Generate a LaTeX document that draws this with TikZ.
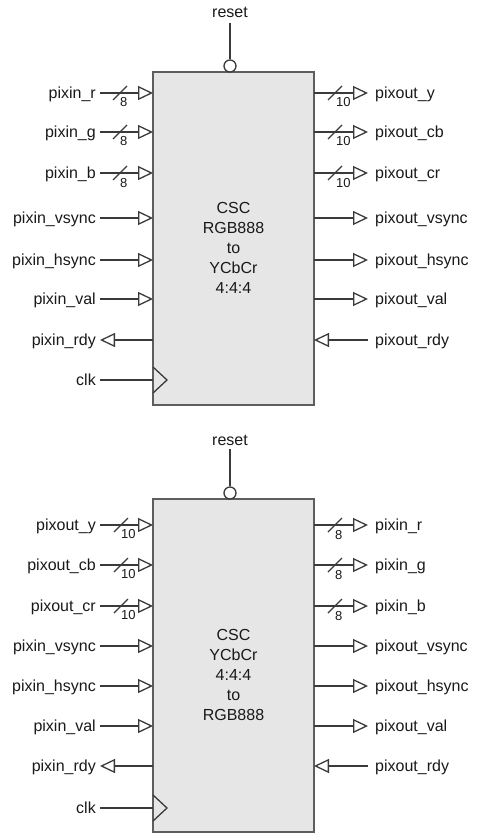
\documentclass[tikz,border=0pt]{standalone}
\usepackage{fontspec}
\setmainfont{Liberation Sans}
\usetikzlibrary{arrows.meta}
\definecolor{linec}{HTML}{3A3A3A}
\definecolor{boxfill}{HTML}{E6E6E6}
\definecolor{boxline}{HTML}{5E5E5E}
\begin{document}
\begin{tikzpicture}[x=1pt,y=-1pt,
  blk/.style={draw=boxline, fill=boxfill, line width=1.7pt, inner sep=0pt, outer sep=0pt},
  sig/.style={draw=linec, line width=1.3pt},
  tri/.style={-{Triangle[open,length=15pt,width=14pt]}},
  lbl/.style={font=\fontsize{16}{20}\selectfont, inner sep=0pt, text=black!90},
  buslbl/.style={font=\fontsize{13}{15}\selectfont, inner sep=0pt, anchor=base west, text=black!90},
  bubble/.style={circle, draw=linec, line width=1.3pt, fill=white, minimum size=12pt, inner sep=0pt}]
\useasboundingbox (0,0) rectangle (480,840);

% ================= block 1 =================
\node[blk, anchor=north west, minimum width=161pt, minimum height=333pt] (B1) at (153,72) {};
\node[lbl, align=center] (B1t) at (233.5,248) {CSC\\RGB888\\to\\YCbCr\\4:4:4};
% reset
\node[lbl, anchor=base] (B1r) at (230,18) {reset};
\node[bubble] (B1c) at (230,66) {};
\draw[sig] ([yshift=-5pt]B1r.base) -- (B1c.north);
% left bus inputs
\foreach \i/\t/\y/\w in {r/pixin\_r/93/8, g/pixin\_g/132/8, b/pixin\_b/173/8}{
  \coordinate (P1-\i) at (153,\y);
  \node[lbl, anchor=base east] (L1-\i) at (96,\y+5.5) {\t};
  \draw[sig,tri] ([xshift=4pt]L1-\i.east |- P1-\i) -- (P1-\i);
  \draw[sig] (113,\y+7) -- (127,\y-7);
  \node[buslbl] (W1-\i) at (120,\y+14) {\w};
}
% left single inputs
\foreach \i/\t/\y in {v/pixin\_vsync/218, h/pixin\_hsync/260, a/pixin\_val/299}{
  \coordinate (P1-\i) at (153,\y);
  \node[lbl, anchor=base east] (L1-\i) at (96,\y+5.5) {\t};
  \draw[sig,tri] ([xshift=4pt]L1-\i.east |- P1-\i) -- (P1-\i);
}
% pixin_rdy (output to the left)
\coordinate (P1-y) at (153,340);
\node[lbl, anchor=base east] (L1-y) at (96,345.5) {pixin\_rdy};
\draw[sig,tri] (P1-y) -- ([xshift=4pt]L1-y.east |- P1-y);
% clk
\coordinate (P1-k) at (153,380);
\node[lbl, anchor=base east] (L1-k) at (96,385.5) {clk};
\draw[sig] ([xshift=4pt]L1-k.east |- P1-k) -- (P1-k);
\draw[sig] (153,367) -- (167,380) -- (153,393);
% right bus outputs
\foreach \i/\t/\y/\w in {r/pixout\_y/93/10, g/pixout\_cb/132/10, b/pixout\_cr/173/10}{
  \coordinate (Q1-\i) at (314,\y);
  \node[lbl, anchor=base west] (R1-\i) at (375,\y+5.5) {\t};
  \draw[sig,tri] (Q1-\i) -- ([xshift=-7pt]R1-\i.west |- Q1-\i);
  \draw[sig] (328,\y+7) -- (342,\y-7);
  \node[buslbl] (X1-\i) at (336,\y+14) {\w};
}
% right single outputs
\foreach \i/\t/\y in {v/pixout\_vsync/218, h/pixout\_hsync/260, a/pixout\_val/299}{
  \coordinate (Q1-\i) at (314,\y);
  \node[lbl, anchor=base west] (R1-\i) at (375,\y+5.5) {\t};
  \draw[sig,tri] (Q1-\i) -- ([xshift=-7pt]R1-\i.west |- Q1-\i);
}
% pixout_rdy (input from the right)
\coordinate (Q1-y) at (314,340);
\node[lbl, anchor=base west] (R1-y) at (375,345.5) {pixout\_rdy};
\draw[sig,tri] ([xshift=-7pt]R1-y.west |- Q1-y) -- (Q1-y);

% ================= block 2 =================
\node[blk, anchor=north west, minimum width=161pt, minimum height=333pt] (B2) at (153,499) {};
\node[lbl, align=center] (B2t) at (233.5,675) {CSC\\YCbCr\\4:4:4\\to\\RGB888};
% reset
\node[lbl, anchor=base] (B2r) at (230,445) {reset};
\node[bubble] (B2c) at (230,493) {};
\draw[sig] ([yshift=-4pt]B2r.base) -- (B2c.north);
% left bus inputs
\foreach \i/\t/\y/\w in {r/pixout\_y/525/10, g/pixout\_cb/565/10, b/pixout\_cr/606/10}{
  \coordinate (P2-\i) at (153,\y);
  \node[lbl, anchor=base east] (L2-\i) at (96,\y+5.5) {\t};
  \draw[sig,tri] ([xshift=4pt]L2-\i.east |- P2-\i) -- (P2-\i);
  \draw[sig] (114,\y+7) -- (128,\y-7);
  \node[buslbl] (W2-\i) at (121,\y+13.5) {\w};
}
% left single inputs
\foreach \i/\t/\y in {v/pixin\_vsync/646, h/pixin\_hsync/686, a/pixin\_val/726}{
  \coordinate (P2-\i) at (153,\y);
  \node[lbl, anchor=base east] (L2-\i) at (96,\y+5.5) {\t};
  \draw[sig,tri] ([xshift=4pt]L2-\i.east |- P2-\i) -- (P2-\i);
}
% pixin_rdy
\coordinate (P2-y) at (153,766);
\node[lbl, anchor=base east] (L2-y) at (96,771.5) {pixin\_rdy};
\draw[sig,tri] (P2-y) -- ([xshift=4pt]L2-y.east |- P2-y);
% clk
\coordinate (P2-k) at (153,808);
\node[lbl, anchor=base east] (L2-k) at (96,813.5) {clk};
\draw[sig] ([xshift=4pt]L2-k.east |- P2-k) -- (P2-k);
\draw[sig] (153,795) -- (167,808) -- (153,821);
% right bus outputs
\foreach \i/\t/\y/\w in {r/pixin\_r/525/8, g/pixin\_g/565/8, b/pixin\_b/606/8}{
  \coordinate (Q2-\i) at (314,\y);
  \node[lbl, anchor=base west] (R2-\i) at (375,\y+5.5) {\t};
  \draw[sig,tri] (Q2-\i) -- ([xshift=-7pt]R2-\i.west |- Q2-\i);
  \draw[sig] (328,\y+7) -- (342,\y-7);
  \node[buslbl] (X2-\i) at (335,\y+14) {\w};
}
% right single outputs
\foreach \i/\t/\y in {v/pixout\_vsync/646, h/pixout\_hsync/686, a/pixout\_val/726}{
  \coordinate (Q2-\i) at (314,\y);
  \node[lbl, anchor=base west] (R2-\i) at (375,\y+5.5) {\t};
  \draw[sig,tri] (Q2-\i) -- ([xshift=-7pt]R2-\i.west |- Q2-\i);
}
% pixout_rdy
\coordinate (Q2-y) at (314,766);
\node[lbl, anchor=base west] (R2-y) at (375,771.5) {pixout\_rdy};
\draw[sig,tri] ([xshift=-7pt]R2-y.west |- Q2-y) -- (Q2-y);
\end{tikzpicture}
\end{document}
